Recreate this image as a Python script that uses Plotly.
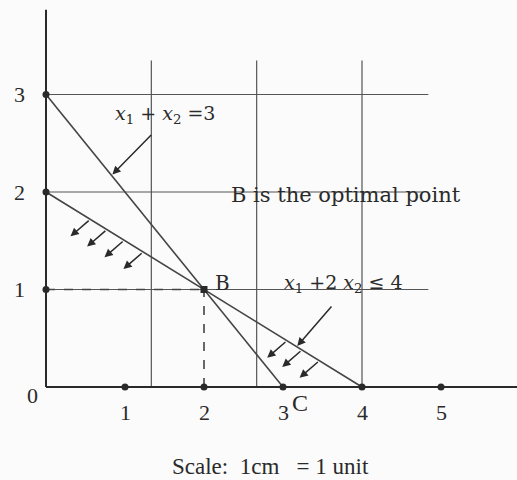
import plotly.graph_objects as go

# Constraint lines: a*x1 + b*x2 = c
constraint_a = [1, 1]
constraint_b = [1, 2]
constraint_c = [3, 4]

x_ticks = [1, 2, 3, 4, 5]
y_ticks = [1, 2, 3]
x_tick_labels = ["1", "2", "3", "4", "5"]
y_tick_labels = ["1", "2", "3"]

optimal_point = (2, 1)   # B
corner_point = (3, 0)    # C

# x1 positions along x1 + 2x2 = 4 where the hatch arrows start
hatch_upper = [0.56, 0.77, 0.99, 1.23]
hatch_lower = [3.05, 3.24, 3.46]

grid_vertical = [4 / 3, 8 / 3, 4]

INK = "#2a2a2a"
GRID = "#555555"
SERIF = "Liberation Serif"
BOOK = "DejaVu Serif"

fig = go.Figure()

# grid lines
for gx in grid_vertical:
    fig.add_trace(go.Scatter(x=[gx, gx], y=[0, 3.35], mode="lines",
                             line=dict(color=GRID, width=1.2), hoverinfo="skip"))
for gy in [1, 2, 3]:
    fig.add_trace(go.Scatter(x=[0, 4.84], y=[gy, gy], mode="lines",
                             line=dict(color=GRID, width=1.2), hoverinfo="skip"))

# axes
fig.add_trace(go.Scatter(x=[0, 0], y=[0, 3.87], mode="lines",
                         line=dict(color=INK, width=2), hoverinfo="skip"))
fig.add_trace(go.Scatter(x=[0, 6.0], y=[0, 0], mode="lines",
                         line=dict(color=INK, width=2), hoverinfo="skip"))

# constraint lines
for a, b, c in zip(constraint_a, constraint_b, constraint_c):
    fig.add_trace(go.Scatter(x=[0, c / a], y=[c / b, 0], mode="lines",
                             line=dict(color="#444444", width=1.6), hoverinfo="skip"))

# projections of B
bx, by = optimal_point
fig.add_trace(go.Scatter(x=[0, bx], y=[by, by], mode="lines",
                         line=dict(color="#444444", width=1.6, dash="dash"), hoverinfo="skip"))
fig.add_trace(go.Scatter(x=[bx, bx], y=[0, by], mode="lines",
                         line=dict(color="#444444", width=1.6, dash="dash"), hoverinfo="skip"))

# points on the axes
fig.add_trace(go.Scatter(x=x_ticks, y=[0] * len(x_ticks), mode="markers",
                         marker=dict(color=INK, size=7), hoverinfo="skip"))
fig.add_trace(go.Scatter(x=[0] * len(y_ticks), y=y_ticks, mode="markers",
                         marker=dict(color=INK, size=7), hoverinfo="skip"))
fig.add_trace(go.Scatter(x=[bx], y=[by], mode="markers",
                         marker=dict(color=INK, size=7, symbol="square"), hoverinfo="skip"))

ann = []
# tick labels
for t, lab in zip(x_ticks, x_tick_labels):
    ann.append(dict(x=t, y=-0.26, text=lab, showarrow=False,
                    font=dict(family=SERIF, size=22, color=INK)))
for t, lab in zip(y_ticks, y_tick_labels):
    ann.append(dict(x=-0.34, y=t, text=lab, showarrow=False,
                    font=dict(family=SERIF, size=22, color=INK)))
ann.append(dict(x=-0.17, y=-0.09, text="0", showarrow=False,
                font=dict(family=SERIF, size=22, color=INK)))

# hatch arrows pointing into the feasible side of x1 + 2x2 <= 4
a2, b2, c2 = constraint_a[1], constraint_b[1], constraint_c[1]
for hx in hatch_upper + hatch_lower:
    hy = (c2 - a2 * hx) / b2
    ann.append(dict(x=hx - 0.25, y=hy - 0.175, ax=hx, ay=hy,
                    xref="x", yref="y", axref="x", ayref="y",
                    showarrow=True, arrowhead=2, arrowsize=1.1,
                    arrowwidth=1.5, arrowcolor=INK, text=""))

# label pointers
ann.append(dict(x=0.84, y=2.18, ax=1.35, ay=2.60, xref="x", yref="y",
                axref="x", ayref="y", showarrow=True, arrowhead=2,
                arrowsize=1.1, arrowwidth=1.5, arrowcolor=INK, text=""))
ann.append(dict(x=3.18, y=0.42, ax=3.63, ay=0.84, xref="x", yref="y",
                axref="x", ayref="y", showarrow=True, arrowhead=2,
                arrowsize=1.1, arrowwidth=1.5, arrowcolor=INK, text=""))

ann.append(dict(x=1.51, y=2.79,
                text="<i>x</i><sub>1</sub> + <i>x</i><sub>2</sub> =3",
                showarrow=False, font=dict(family=BOOK, size=19, color=INK)))
ann.append(dict(x=3.77, y=1.06,
                text="<i>x</i><sub>1</sub> +2 <i>x</i><sub>2</sub> \u2264 4",
                showarrow=False, font=dict(family=BOOK, size=19, color=INK)))
ann.append(dict(x=3.80, y=1.97, text="B is the optimal point",
                showarrow=False, font=dict(family=BOOK, size=21, color=INK)))
ann.append(dict(x=bx + 0.24, y=by + 0.07, text="B", showarrow=False,
                font=dict(family=BOOK, size=20, color=INK)))
ann.append(dict(x=corner_point[0] + 0.22, y=corner_point[1] - 0.16, text="C",
                showarrow=False, font=dict(family=SERIF, size=24, color=INK)))
ann.append(dict(x=2.84, y=-0.82, text="Scale:  1cm   = 1 unit", showarrow=False,
                font=dict(family=SERIF, size=23, color=INK)))

fig.update_layout(
    width=517, height=480,
    margin=dict(l=0, r=0, t=0, b=0),
    paper_bgcolor="#fbfbfb", plot_bgcolor="#fbfbfb",
    showlegend=False,
    xaxis=dict(range=[-46 / 79, 471 / 79], visible=False, fixedrange=True),
    yaxis=dict(range=[-93 / 97.5, 387 / 97.5], visible=False, fixedrange=True),
    annotations=ann,
)

fig.write_html("out.html")
